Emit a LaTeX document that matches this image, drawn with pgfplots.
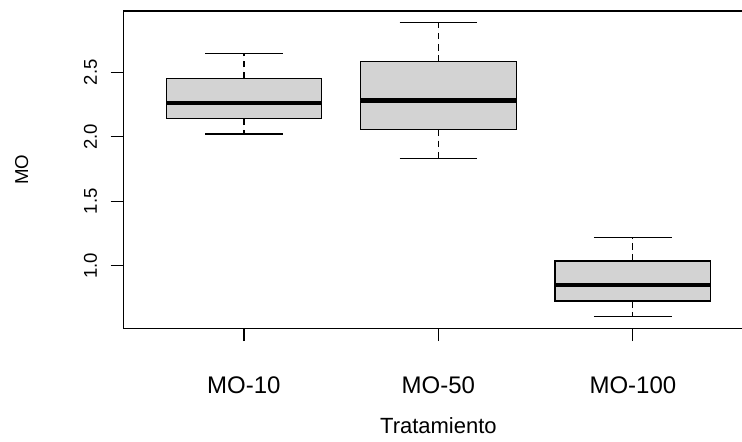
\documentclass[border=0pt]{standalone}
\usepackage{pgfplots}
\pgfplotsset{compat=1.18}
\usepgfplotslibrary{statistics}
\usepackage{fontspec}
\setmainfont{Liberation Sans}

\definecolor{boxgray}{RGB}{211,211,211}

% whisker stem dashed, staple solid
\pgfplotsset{
  dashwhisker/.style={
    /pgfplots/boxplot/draw/lower whisker/.code={%
      \draw[dash pattern=on 5pt off 3.5pt]
        (boxplot cs:\pgfplotsboxplotvalue{lower quartile})
        -- (boxplot cs:\pgfplotsboxplotvalue{lower whisker});
      \draw[solid]
        (boxplot whisker cs:\pgfplotsboxplotvalue{lower whisker},0)
        -- (boxplot whisker cs:\pgfplotsboxplotvalue{lower whisker},1);
    },
    /pgfplots/boxplot/draw/upper whisker/.code={%
      \draw[dash pattern=on 5pt off 3.5pt]
        (boxplot cs:\pgfplotsboxplotvalue{upper quartile})
        -- (boxplot cs:\pgfplotsboxplotvalue{upper whisker});
      \draw[solid]
        (boxplot whisker cs:\pgfplotsboxplotvalue{upper whisker},0)
        -- (boxplot whisker cs:\pgfplotsboxplotvalue{upper whisker},1);
    },
  },
}

\begin{document}
\begin{tikzpicture}
\path[use as bounding box, clip] (-92.5pt,-85.1pt) rectangle (464pt,246.4pt);
\begin{axis}[
  at={(0,0)}, anchor=south west,
  scale only axis,
  width=472.6pt, height=238.1pt,
  xmin=0.38, xmax=3.62,
  ymin=0.513, ymax=2.974,
  axis line style={line width=0.9pt},
  every tick/.style={black, line width=0.9pt},
  tick align=outside,
  major tick length=9.5pt,
  xtick={1,2,3},
  xticklabels={MO-10, MO-50, MO-100},
  ytick={1.0,1.5,2.0,2.5},
  yticklabel={\pgfmathprintnumber[fixed, fixed zerofill, precision=1]{\tick}},
  /pgf/number format/assume math mode=true,
  xtick pos=bottom, ytick pos=left,
  xticklabel style={font=\fontsize{18}{20}\selectfont, anchor=base, yshift=-39.4pt},
  yticklabel style={font=\fontsize{13.9}{16}\selectfont, xshift=-10pt, rotate=90, anchor=south, inner sep=0pt},
  xlabel={Tratamiento},
  ylabel={MO},
  every axis x label/.style={at={(axis description cs:0.5,-0.330)}, anchor=base, font=\fontsize{16.5}{18}\selectfont},
  every axis y label/.style={at={(axis description cs:-0.1512,0.5)}, rotate=90, anchor=base, font=\fontsize{14}{16}\selectfont},
  boxplot/draw direction=y,
  boxplot/box extend=0.8,
  boxplot/whisker extend=0.4,
  boxplot/every median/.style={line width=3.2pt},
]
\addplot[draw=black, fill=boxgray, line width=0.9pt, dashwhisker,
  boxplot prepared={draw position=1,
    lower whisker=2.021, lower quartile=2.140, median=2.264,
    upper quartile=2.451, upper whisker=2.643}] coordinates {};
\addplot[draw=black, fill=boxgray, line width=0.9pt, dashwhisker,
  boxplot prepared={draw position=2,
    lower whisker=1.834, lower quartile=2.057, median=2.280,
    upper quartile=2.580, upper whisker=2.883}] coordinates {};
\addplot[draw=black, fill=boxgray, line width=0.9pt, dashwhisker,
  boxplot prepared={draw position=3,
    lower whisker=0.604, lower quartile=0.726, median=0.850,
    upper quartile=1.036, upper whisker=1.218}] coordinates {};
\end{axis}
\end{tikzpicture}
\end{document}
